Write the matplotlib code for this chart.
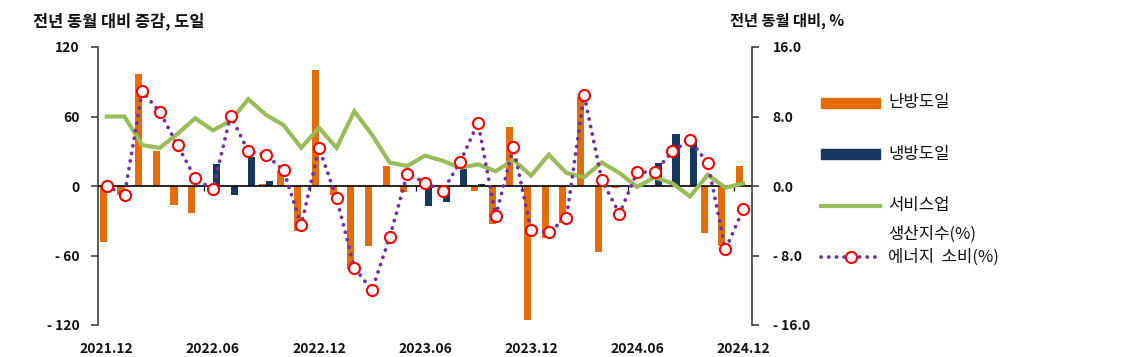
import numpy as np
import matplotlib
matplotlib.use("Agg")
import matplotlib.pyplot as plt
from matplotlib.lines import Line2D
from matplotlib.patches import Rectangle

plt.rcParams['font.family'] = ['Noto Sans CJK KR', 'DejaVu Sans']

# ---- data ----
months = ['2021.12', '2022.01', '2022.02', '2022.03', '2022.04', '2022.05', '2022.06',
          '2022.07', '2022.08', '2022.09', '2022.10', '2022.11', '2022.12',
          '2023.01', '2023.02', '2023.03', '2023.04', '2023.05', '2023.06',
          '2023.07', '2023.08', '2023.09', '2023.10', '2023.11', '2023.12',
          '2024.01', '2024.02', '2024.03', '2024.04', '2024.05', '2024.06',
          '2024.07', '2024.08', '2024.09', '2024.10', '2024.11', '2024.12']
heating = [-48, -8, 97, 30, -16, -23, 0, 0, 0, 2, 13, -39, 100,
           -8, -72, -52, 17, -5, -1, 0, 0, -4, -33, 51, -116,
           -45, -32, 77, -57, -2, 0, 0, 0, 0, -41, -52, 17]
cooling = [0, 0, 0, 0, 0, 0, 19, -8, 25, 4, 0, 0, 0,
           0, 0, 0, 0, 0, -17, -14, 15, 2, 0, 0, 0,
           0, 0, 0, 0, 0, 0, 20, 45, 39, 0, 0, 0]
service = [8.0, 8.0, 4.7, 4.4, 6.0, 7.8, 6.4, 7.5, 10.0, 8.2, 7.0, 4.4, 6.7,
           4.4, 8.6, 5.9, 2.7, 2.3, 3.5, 2.9, 2.1, 2.5, 1.7, 3.0, 1.2,
           3.6, 1.5, 1.0, 2.7, 1.5, -0.1, 1.0, 0.3, -1.2, 1.3, -0.2, 0.3]
energy = [0.0, -1.0, 10.9, 8.5, 4.7, 0.9, -0.4, 8.1, 4.0, 3.6, 1.8, -4.5, 4.4,
          -1.4, -9.4, -12.0, -5.9, 1.4, 0.4, -0.6, 2.8, 7.3, -3.5, 4.5, -5.1,
          -5.3, -3.7, 10.5, 0.7, -3.2, 1.6, 1.6, 4.0, 5.3, 2.6, -7.3, -2.7]

xtick_idx = [0, 6, 12, 18, 24, 30, 36]
left_ticks = [120, 60, 0, -60, -120]
left_labels = ['120', '60', '0', '- 60', '- 120']
right_ticks = [16, 8, 0, -8, -16]
right_labels = ['16.0', '8.0', '0.0', '- 8.0', '- 16.0']

legend_labels = ['난방도일', '냉방도일', '서비스업', '생산지수(%)', '에너지  소비(%)']

C_ORANGE = '#E46C0A'
C_NAVY = '#17375E'
C_GREEN = '#9BBB59'
C_PURPLE = '#7030A0'
C_RED = '#FF0000'
C_AXIS = '#404040'

DOT_STYLE = (0, (0.05, 2.0))
DOT_LW = 2.7

W, H = 1127, 357
fig = plt.figure(figsize=(W / 100, H / 100), dpi=100)
ax = fig.add_axes([98 / W, 1 - 325 / H, (752 - 98) / W, (325 - 47) / H])
ax2 = ax.twinx()

x = np.arange(len(months))
bw = 0.4
ax.bar(x - 0.2, heating, width=bw, color=C_ORANGE, zorder=2)
ax.bar(x + 0.2, cooling, width=bw, color=C_NAVY, zorder=2)
ax.axhline(0, color='black', lw=1.2, zorder=3)
# category boundary ticks every 6 months
bounds = [i - 0.5 for i in xtick_idx[1:]]
ax.vlines(bounds, -4.5, 0, color='black', lw=0.9, zorder=3)

ax.set_xlim(-0.5, len(months) - 0.5)
ax.set_ylim(-120, 120)
ax.set_yticks(left_ticks)
ax.set_yticklabels(left_labels)
ax.set_xticks(xtick_idx)
ax.set_xticklabels([months[i] for i in xtick_idx])
ax.tick_params(axis='x', length=0, pad=12, labelsize=10)
ax.tick_params(axis='y', direction='out', length=5, width=1.2, color=C_AXIS,
               pad=8, labelsize=10)
for lab in ax.get_xticklabels() + ax.get_yticklabels():
    lab.set_fontweight('bold')
    lab.set_color('#111111')
for s in ['top', 'right', 'bottom']:
    ax.spines[s].set_visible(False)
ax.spines['left'].set_color(C_AXIS)
ax.spines['left'].set_linewidth(1.2)

ax2.plot(x, service, color=C_GREEN, lw=3, zorder=4, solid_joinstyle='miter')
ax2.plot(x, energy, color=C_PURPLE, lw=DOT_LW, linestyle=DOT_STYLE,
         dash_capstyle='round', zorder=5)
ax2.plot(x, energy, linestyle='none', marker='o', markersize=8,
         markerfacecolor='white', markeredgecolor=C_RED, markeredgewidth=1.5,
         zorder=6)
ax2.set_ylim(-16, 16)
ax2.set_yticks(right_ticks)
ax2.set_yticklabels(right_labels)
ax2.tick_params(axis='y', direction='out', length=5, width=1.2, color=C_AXIS,
                pad=10, labelsize=10)
for lab in ax2.get_yticklabels():
    lab.set_fontweight('bold')
    lab.set_color('#111111')
for s in ['top', 'left', 'bottom']:
    ax2.spines[s].set_visible(False)
ax2.spines['right'].set_color(C_AXIS)
ax2.spines['right'].set_linewidth(1.2)

# axis titles
fig.text(33 / W, 1 - 21 / H, '전년 동월 대비 증감, 도일', fontsize=11.8, fontweight='bold',
         va='center', ha='left', color='#111111')
fig.text(730 / W, 1 - 21 / H, '전년 동월 대비, %', fontsize=11, fontweight='bold',
         va='center', ha='left', color='#111111')

# legend (drawn manually to match layout)
def fy(py):
    return 1 - py / H

lx0, lx1 = 821 / W, 880 / W
tx = 888 / W
fig.add_artist(Rectangle((lx0, fy(108)), lx1 - lx0, 10 / H, color=C_ORANGE,
                         transform=fig.transFigure))
fig.add_artist(Rectangle((lx0, fy(159)), lx1 - lx0, 10 / H, color=C_NAVY,
                         transform=fig.transFigure))
fig.add_artist(Line2D([lx0, lx1], [fy(206), fy(206)], color=C_GREEN, lw=3,
                      transform=fig.transFigure))
fig.add_artist(Line2D([lx0, lx1], [fy(257), fy(257)], color=C_PURPLE, lw=DOT_LW,
                      linestyle=DOT_STYLE, dash_capstyle='round',
                      transform=fig.transFigure))
fig.add_artist(Line2D([851 / W], [fy(257)], linestyle='none', marker='o',
                      markersize=8, markerfacecolor='white', markeredgecolor=C_RED,
                      markeredgewidth=1.5, transform=fig.transFigure))
leg_y = [102, 154, 206, 234, 257]
for lab, py in zip(legend_labels, leg_y):
    fig.text(tx, fy(py), lab, fontsize=12, va='center', ha='left', color='#111111')

fig.savefig('out.png', dpi=100)
